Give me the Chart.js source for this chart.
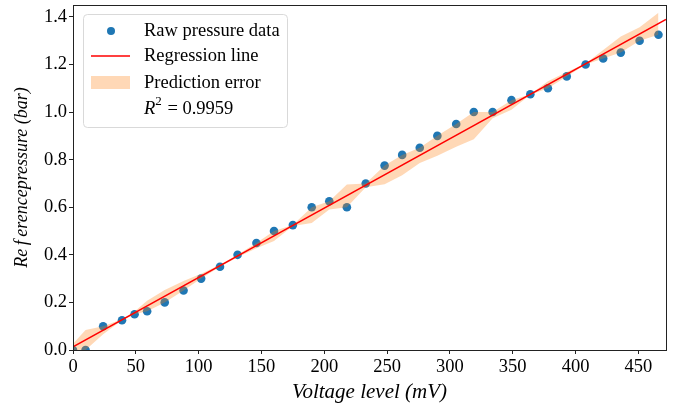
<!DOCTYPE html>
<html>
<head>
<meta charset="utf-8">
<script src="https://cdn.jsdelivr.net/npm/chart.js@4/dist/chart.umd.min.js"></script>
<style>
  html, body { margin: 0; padding: 0; background: #fff; }
  #wrap { width: 689px; height: 412px; }
</style>
</head>
<body>
<div id="wrap"><canvas id="chart" width="689" height="412"></canvas></div>
<script>
const voltage = [0, 10, 24, 39, 49, 59, 73, 88, 102, 117, 131, 146, 160, 175, 190, 204, 218,
  233, 248, 262, 276, 290, 305, 319, 334, 349, 364, 378, 393, 408, 422, 436, 451, 466]
const pressure = [0, 0, 0.1, 0.125, 0.15, 0.163, 0.2, 0.25, 0.3, 0.35, 0.4, 0.45, 0.5, 0.525, 0.6, 0.625, 0.6,
  0.7, 0.775, 0.82, 0.85, 0.9, 0.95, 1.0, 1.0, 1.05, 1.075, 1.1, 1.15, 1.2, 1.225, 1.25, 1.3, 1.325]

// prediction error band (lower / upper edge at each voltage)
const errLow = [0, 0, 0.066, 0.125, 0.15, 0.163, 0.2, 0.25, 0.3, 0.35, 0.39, 0.428, 0.458, 0.521, 0.534, 0.591, 0.6,
  0.684, 0.697, 0.734, 0.786, 0.816, 0.854, 0.886, 0.974, 1.01, 1.073, 1.1, 1.15, 1.2, 1.225, 1.25, 1.3, 1.325]
const errHigh = [0.026, 0.084, 0.1, 0.129, 0.162, 0.207, 0.252, 0.29, 0.32, 0.358, 0.4, 0.45, 0.5, 0.525, 0.6, 0.625, 0.696,
  0.7, 0.775, 0.82, 0.85, 0.9, 0.95, 1.0, 1.0, 1.05, 1.075, 1.13, 1.168, 1.204, 1.261, 1.318, 1.356, 1.417]

// regression line end points
const regX = [0, 472]
const regY = [0.013, 1.389]

const legendLabels = ['Raw pressure data', 'Regression line', 'Prediction error']
const r2Value = '0.9959'

const BLUE = '#1f77b4'
const RED = '#ff0000'
const BAND = 'rgba(255,127,14,0.3)'
const FONT = '"Liberation Serif", "DejaVu Serif", serif'

const toXY = (xs, ys) => xs.map((x, i) => ({ x: x, y: ys[i] }))

// top/right spines + matplotlib style legend
const framePlugin = {
  id: 'frame',
  afterDraw(chart) {
    const ctx = chart.ctx
    const a = chart.chartArea
    ctx.save()
    ctx.strokeStyle = '#222'
    ctx.lineWidth = 1
    ctx.strokeRect(Math.round(a.left) + 0.5, Math.round(a.top) + 0.5,
      Math.round(a.right - a.left), Math.round(a.bottom - a.top))

    // legend box
    const bx = a.left + 10, by = a.top + 9, bw = 204, bh = 113
    ctx.beginPath()
    ctx.roundRect(bx + 0.5, by + 0.5, bw, bh, 4)
    ctx.fillStyle = 'rgba(255,255,255,0.8)'
    ctx.fill()
    ctx.strokeStyle = '#d9d9d9'
    ctx.stroke()

    const tx = bx + 61
    const rows = [by + 17, by + 42, by + 69, by + 95]
    ctx.font = '18.5px ' + FONT
    ctx.fillStyle = '#000'
    ctx.textBaseline = 'middle'
    legendLabels.forEach((t, i) => ctx.fillText(t, tx, rows[i]))

    // markers
    ctx.beginPath()
    ctx.arc(bx + 28, rows[0], 4, 0, Math.PI * 2)
    ctx.fillStyle = BLUE
    ctx.fill()
    ctx.beginPath()
    ctx.moveTo(bx + 8, rows[1])
    ctx.lineTo(bx + 47, rows[1])
    ctx.strokeStyle = RED
    ctx.lineWidth = 1.5
    ctx.stroke()
    ctx.fillStyle = BAND
    ctx.fillRect(bx + 8, rows[2] - 7, 39, 13)

    // R^2 = value
    ctx.fillStyle = '#000'
    ctx.font = 'italic 18.5px ' + FONT
    ctx.fillText('R', tx, rows[3])
    let w = ctx.measureText('R').width
    ctx.font = '13px ' + FONT
    ctx.fillText('2', tx + w, rows[3] - 7)
    w += ctx.measureText('2').width + 1
    ctx.font = '18.5px ' + FONT
    ctx.fillText(' = ' + r2Value, tx + w, rows[3])
    ctx.restore()
  }
}

const ctx = document.getElementById('chart').getContext('2d')
new Chart(ctx, {
  type: 'scatter',
  data: {
    datasets: [
      {
        label: legendLabels[0],
        data: toXY(voltage, pressure),
        backgroundColor: BLUE,
        borderWidth: 0,
        pointRadius: 4.3,
        order: 3
      },
      {
        label: 'low',
        data: toXY(voltage, errLow),
        showLine: true,
        borderWidth: 0,
        borderColor: 'rgba(0,0,0,0)',
        pointRadius: 0,
        fill: false,
        order: 2
      },
      {
        label: legendLabels[2],
        data: toXY(voltage, errHigh),
        showLine: true,
        borderWidth: 0,
        borderColor: 'rgba(0,0,0,0)',
        backgroundColor: BAND,
        pointRadius: 0,
        fill: '-1',
        order: 1
      },
      {
        label: legendLabels[1],
        data: toXY(regX, regY),
        showLine: true,
        borderColor: RED,
        borderWidth: 1.5,
        pointRadius: 0,
        fill: false,
        order: 0
      }
    ]
  },
  options: {
    responsive: false,
    animation: false,
    layout: { padding: { top: 5, right: 23, left: 0, bottom: 0 } },
    plugins: {
      legend: { display: false },
      tooltip: { enabled: false }
    },
    scales: {
      x: {
        type: 'linear',
        min: 0,
        max: 472,
        afterFit: s => { s.height = 62; s.paddingLeft = 0; s.paddingRight = 0 },
        ticks: {
          stepSize: 50,
          includeBounds: false,
          maxRotation: 0,
          color: '#000',
          padding: 2,
          font: { family: FONT, size: 18.5 }
        },
        grid: { drawOnChartArea: false, drawTicks: true, tickLength: 4, color: '#222' },
        border: { display: true, color: '#222' },
        title: {
          display: true,
          text: 'Voltage level (mV)',
          color: '#000',
          padding: { top: 0, bottom: 7 },
          font: { family: FONT, size: 21, style: 'italic' }
        }
      },
      y: {
        type: 'linear',
        min: 0,
        max: 1.45,
        afterFit: s => { s.width = 73; s.paddingTop = 0; s.paddingBottom = 0 },
        ticks: {
          stepSize: 0.2,
          includeBounds: false,
          color: '#000',
          padding: 2,
          font: { family: FONT, size: 18.5 },
          callback: v => v.toFixed(1)
        },
        grid: { drawOnChartArea: false, drawTicks: true, tickLength: 4, color: '#222' },
        border: { display: true, color: '#222' },
        title: {
          display: true,
          text: 'Re\u2009f\u2009erencepressure (bar)',
          color: '#000',
          padding: { top: 11, bottom: 0 },
          font: { family: FONT, size: 18, style: 'italic' }
        }
      }
    }
  },
  plugins: [framePlugin]
})
</script>
</body>
</html>
